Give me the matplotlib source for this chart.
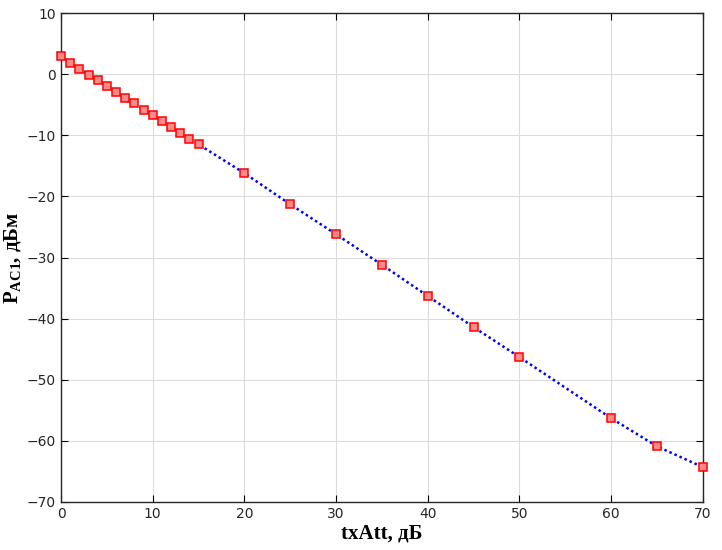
import matplotlib.pyplot as plt

# Measured data
tx_att = [0, 1, 2, 3, 4, 5, 6, 7, 8, 9, 10, 11, 12, 13, 14, 15,
          20, 25, 30, 35, 40, 45, 50, 60, 65, 70]
p_ac1 = [2.9, 1.9, 0.9, -0.1, -1.0, -1.9, -2.9, -3.9, -4.8, -5.8, -6.7, -7.6,
         -8.6, -9.6, -10.6, -11.5, -16.2, -21.3, -26.2, -31.2, -36.3, -41.4,
         -46.3, -56.3, -60.9, -64.3]

xticks = list(range(0, 71, 10))
yticks = list(range(-70, 11, 10))

fig = plt.figure(figsize=(7.22, 5.5), dpi=100)
ax = fig.add_axes([0.0845, 0.0873, 0.889, 0.889])

ax.plot(tx_att, p_ac1, color='blue', linewidth=1.8, linestyle=(0, (1, 1.2)),
        zorder=2)
ax.plot(tx_att, p_ac1, 's', markersize=5.3, markerfacecolor='#ff8a8a',
        markeredgecolor='red', markeredgewidth=1.1, linestyle='none',
        zorder=3, clip_on=False)

ax.set_xlim(0, 70)
ax.set_ylim(-70, 10)
ax.set_xticks(xticks)
ax.set_yticks(yticks)
ax.grid(True, color='#dcdcdc', linewidth=0.8)
ax.set_axisbelow(True)
ax.tick_params(direction='in', top=True, right=True, labelsize=10,
               labelcolor='#262626', length=5)
for s in ax.spines.values():
    s.set_color('#262626')
    s.set_linewidth(1.0)

serif = {'family': 'Liberation Serif', 'weight': 'bold', 'size': 15}
ax.set_xlabel('txAtt, дБ', fontdict=serif, labelpad=2)
ax.set_ylabel(r'P$_{\mathregular{AC1}}$, дБм', fontdict=serif, labelpad=2)

fig.savefig('out.png', dpi=100)
